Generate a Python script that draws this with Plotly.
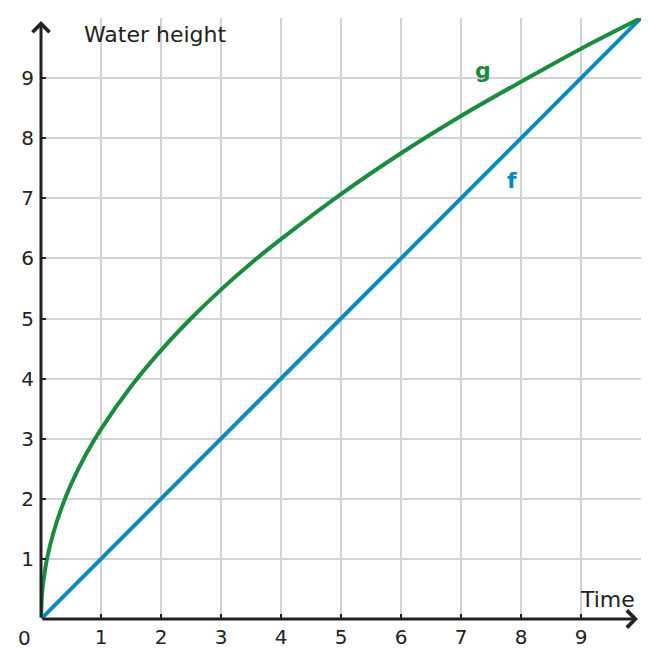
import plotly.graph_objects as go

# Data
f_x = [0, 10]
f_y = [0, 10]
g_x = [0, 0.02, 0.05, 0.1, 0.2, 0.35, 0.5, 0.75, 1, 1.5, 2, 2.5, 3, 3.5, 4, 5, 6, 7, 8, 9, 10]
g_y = [0, 0.45, 0.7, 1.0, 1.41, 1.87, 2.24, 2.74, 3.16, 3.87, 4.47, 5.0, 5.48, 5.92, 6.32, 7.07, 7.75, 8.37, 8.94, 9.49, 10.0]
tick_vals = [1, 2, 3, 4, 5, 6, 7, 8, 9]
tick_text = ["1", "2", "3", "4", "5", "6", "7", "8", "9"]

GREEN = "#1b8c3d"
BLUE = "#0a8bbd"
AXIS = "#222222"
GRID = "#d3d3d3"
FONT = "DejaVu Sans"

fig = go.Figure()
fig.add_trace(go.Scatter(x=f_x, y=f_y, mode="lines", line=dict(color=BLUE, width=4), hoverinfo="skip"))
fig.add_trace(go.Scatter(x=g_x, y=g_y, mode="lines", line=dict(color=GREEN, width=4, shape="spline", smoothing=1.0), hoverinfo="skip"))

axis_common = dict(
    range=[0, 10], tickvals=tick_vals, ticktext=tick_text,
    showgrid=True, gridcolor=GRID, gridwidth=2,
    zeroline=False, showline=False,
    ticks="inside", ticklen=5, tickwidth=2, tickcolor=AXIS,
    tickfont=dict(family=FONT, size=20, color=AXIS),
    fixedrange=True,
)
fig.update_xaxes(**axis_common, ticklabelstandoff=4)
fig.update_yaxes(**axis_common, ticklabelstandoff=6)

annotations = [
    # axis arrows
    dict(x=9.95, y=0, ax=0, ay=0, xref="x", yref="y", axref="x", ayref="y",
         showarrow=True, arrowhead=4, arrowsize=1.1, arrowwidth=3, arrowcolor=AXIS, text=""),
    dict(x=0, y=9.95, ax=0, ay=0, xref="x", yref="y", axref="x", ayref="y",
         showarrow=True, arrowhead=4, arrowsize=1.1, arrowwidth=3, arrowcolor=AXIS, text=""),
    dict(x=1.9, y=9.73, xref="x", yref="y", text="Water height", showarrow=False,
         font=dict(family=FONT, size=22, color=AXIS)),
    dict(x=9.44, y=0.33, xref="x", yref="y", text="Time", showarrow=False,
         font=dict(family=FONT, size=22, color=AXIS)),
    dict(x=-0.028, y=-0.032, xref="paper", yref="paper", xanchor="center", yanchor="middle",
         text="0", showarrow=False, font=dict(family=FONT, size=20, color=AXIS)),
    dict(x=7.37, y=9.12, xref="x", yref="y", text="<b>g</b>", showarrow=False,
         font=dict(family=FONT, size=22, color=GREEN)),
    dict(x=7.85, y=7.3, xref="x", yref="y", text="<b>f</b>", showarrow=False,
         font=dict(family=FONT, size=22, color=BLUE)),
]

fig.update_layout(
    width=661, height=668,
    margin=dict(l=41, r=20, t=18, b=49),
    plot_bgcolor="white", paper_bgcolor="white",
    showlegend=False,
    annotations=annotations,
)

fig.write_html("out.html")
